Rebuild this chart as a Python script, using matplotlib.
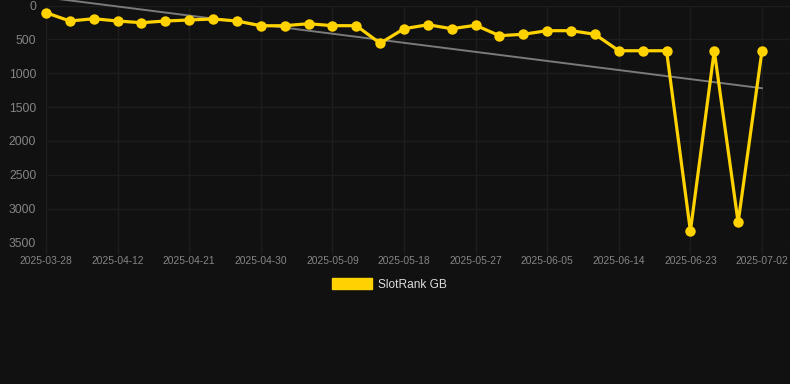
import numpy as np
import matplotlib
matplotlib.use("Agg")
import matplotlib.pyplot as plt
from matplotlib.patches import Patch

# Data (rank values; axis inverted)
rank_values = [106, 229, 195, 229, 254, 229, 214, 199, 229, 300,
               298, 269, 298, 298, 558, 343, 284, 343, 292, 446,
               425, 372, 372, 425, 668, 668, 668, 3331, 668, 3203,
               668]
tick_labels = ['2025-03-28', '2025-04-12', '2025-04-21', '2025-04-30',
               '2025-05-09', '2025-05-18', '2025-05-27', '2025-06-05',
               '2025-06-14', '2025-06-23', '2025-07-02']
y_ticks = [0, 500, 1000, 1500, 2000, 2500, 3000, 3500]
series_name = 'SlotRank GB'

BG = '#111111'
GOLD = '#FFD200'
GRID = '#1d1d1d'
TXT = '#858585'

plt.rcParams['font.family'] = ['Liberation Sans', 'DejaVu Sans']

W, H = 790, 384
fig = plt.figure(figsize=(W / 100, H / 100), dpi=100, facecolor=BG)

left_px, right_px = 46, 790
top_px, bot_px = 5.5, 242.5
ax = fig.add_axes([left_px / W, 1 - bot_px / H, (right_px - left_px) / W, (bot_px - top_px) / H])
ax.set_facecolor(BG)

x = np.arange(len(rank_values))
step = (762 - 46) / (len(rank_values) - 1)
ax.set_xlim(0, (right_px - left_px) / step)
ax.set_ylim(3500, 0)

# trend line (least squares fit)
coef = np.polyfit(x, rank_values, 1)
trend = np.polyval(coef, x[[0, -1]])
ax.plot(x[[0, -1]], trend, color='#7a7a7a', lw=1.4, zorder=2, clip_on=False)

ax.plot(x, rank_values, color=GOLD, lw=2.3, marker='o', markersize=7.5,
        markeredgewidth=0, solid_joinstyle='miter', zorder=3, clip_on=False)

ax.set_yticks(y_ticks)
ax.set_yticklabels([str(v) for v in y_ticks])
ax.set_xticks(x[::3])
ax.set_xticklabels(tick_labels)

ax.grid(True, color=GRID, lw=1.0)
ax.set_axisbelow(True)
for s in ax.spines.values():
    s.set_visible(False)
ax.tick_params(axis='y', length=0, pad=7, labelsize=8.7, labelcolor=TXT)
ax.tick_params(axis='x', length=8, width=1.0, color=GRID, pad=2, labelsize=7.4, labelcolor=TXT)

leg = fig.legend(handles=[Patch(facecolor=GOLD, edgecolor=GOLD, label=series_name)],
                 loc='center', bbox_to_anchor=(0.493, 1 - 284.5 / H), frameon=False,
                 fontsize=8.6, labelcolor='#dddddd', handlelength=3.4, handleheight=1.0,
                 handletextpad=0.5)

fig.savefig('out.png', dpi=100, facecolor=BG)
